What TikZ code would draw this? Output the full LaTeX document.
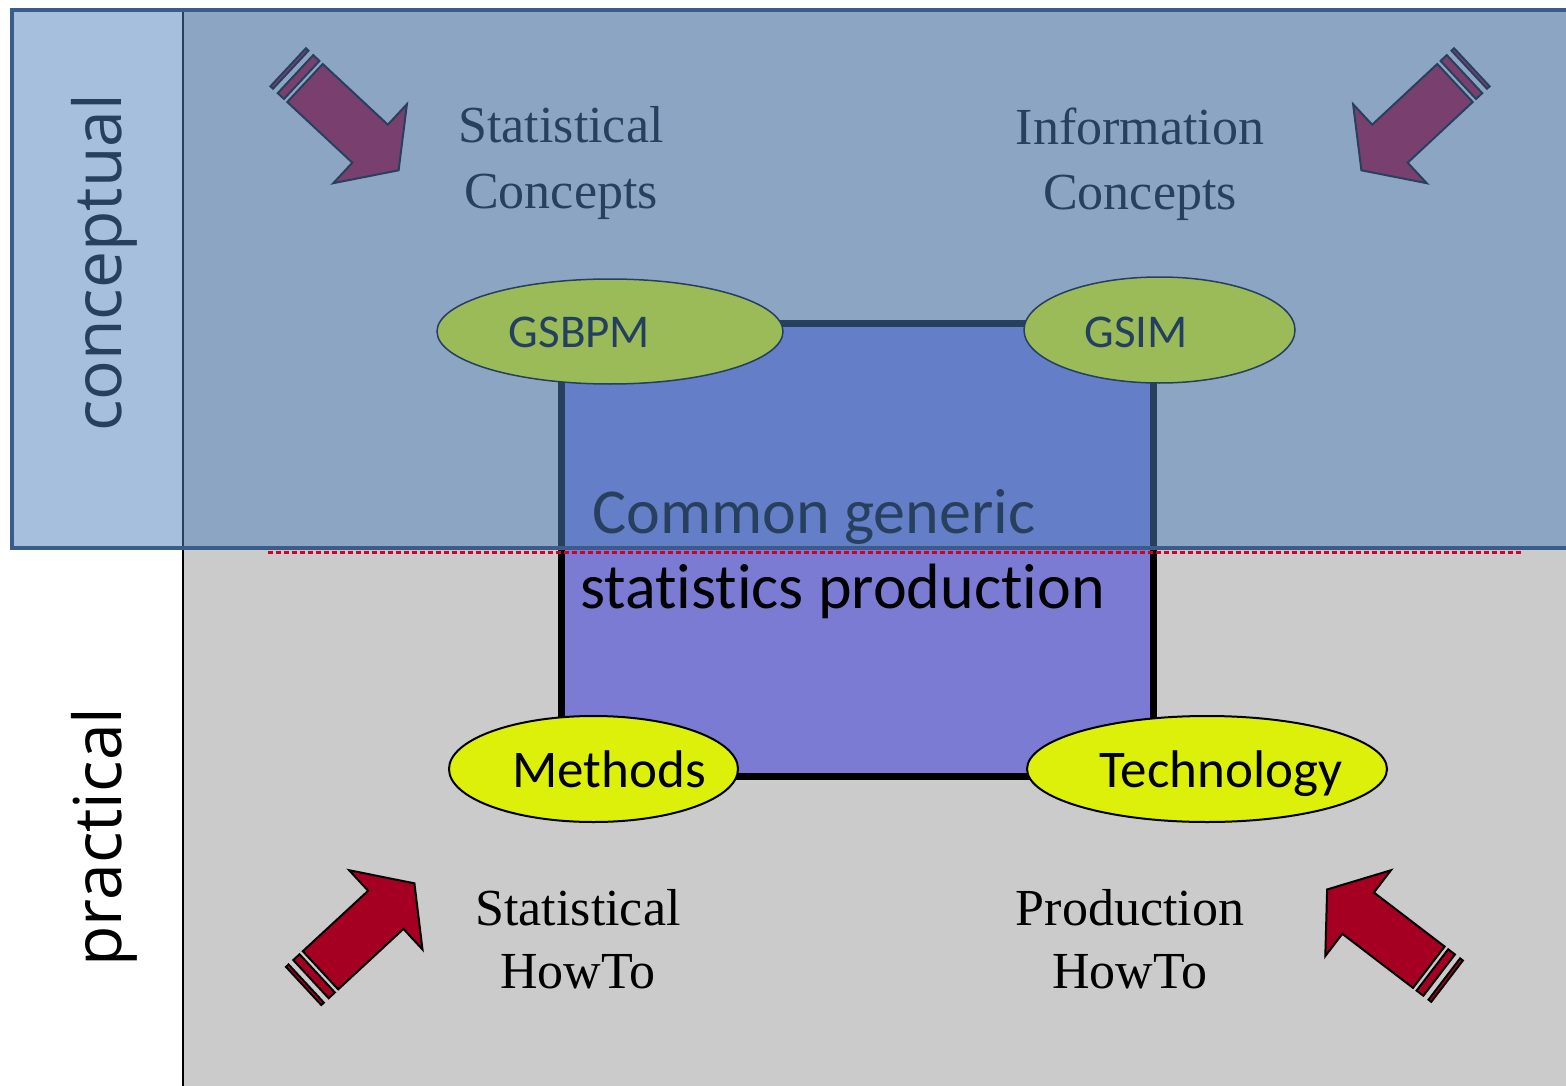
\documentclass[tikz,border=0pt]{standalone}
\usepackage{fontspec}
\setmainfont{Liberation Serif}
\newfontfamily\calib[Ligatures=NoCommon]{Carlito}
\newfontfamily\opens{Open Sans}
\usetikzlibrary{shapes.geometric}
\definecolor{graybg}{HTML}{CBCBCB}
\definecolor{sqfill}{HTML}{7B7BD3}
\definecolor{bandfill}{HTML}{4F81BD}
\definecolor{bandline}{HTML}{385D8A}
\definecolor{arrowred}{HTML}{A50021}
\definecolor{greenfill}{HTML}{9BBB59}
\definecolor{navytext}{HTML}{243F60}
\definecolor{yellowfill}{HTML}{DDF00A}
\definecolor{dashred}{HTML}{D0002A}
\begin{document}
\begin{tikzpicture}[x=1pt,y=-1pt,
  arrowsty/.style={fill=arrowred,draw=black,line width=2pt,line join=miter},
  pics/striparrow/.style={code={
    \draw[arrowsty] (0,-26) -- (89,-26) -- (89,-54) -- (128,0) -- (89,54) -- (89,26) -- (0,26) -- cycle;
    \draw[arrowsty] (-13,-26) rectangle (-4.5,26);
    \draw[arrowsty] (-23,-26) rectangle (-19.5,26);
  }},
  serif/.style={font=\fontsize{52}{63}\selectfont,inner sep=0pt,anchor=base},
  sidelabel/.style={font=\opens\fontsize{66}{72}\selectfont,rotate=90,anchor=base,inner sep=0pt},
  boxtext/.style={font=\calib\fontsize{64}{75}\selectfont,inner sep=0pt,anchor=base west},
  greenell/.style={ellipse,fill=greenfill,draw=navytext,line width=1.5pt,inner sep=0pt},
  yellowell/.style={ellipse,fill=yellowfill,draw=black,line width=2pt,inner sep=0pt},
  elltext/.style={font=\calib\fontsize{47}{55}\selectfont,inner sep=0pt,anchor=base,text=navytext},
  elltextb/.style={font=\calib\fontsize{53}{60}\selectfont,inner sep=0pt,anchor=base,text=black},
  sqbox/.style={rectangle,fill=sqfill,draw=black,line width=7pt,inner sep=0pt},
]
\useasboundingbox (0,0) rectangle (1566,1086);
\fill[white] (0,0) rectangle (1566,1086);
% practical background
\fill[graybg] (183,8) rectangle (1566,1086);
\draw[black,line width=2pt] (183,8) -- (183,1086);
% central square
\node[sqbox,minimum width=592pt,minimum height=453pt] (box) at (857,549.5) {};
\node[boxtext] (cg1) at (592,533) {Common generic};
\node[boxtext] (cg2) at (580,608) {statistics production};
% top arrows and texts (under the band)
\pic[rotate=-43] at (305,83) {striparrow};
\pic[rotate=-137] at (1455,83) {striparrow};
\node[serif] (sc1) at (561,143) {Statistical};
\node[serif] (sc2) at (561,208) {Concepts};
\node[serif] (ic1) at (1140,145) {Information};
\node[serif] (ic2) at (1140,210) {Concepts};
\node[sidelabel] (conc) at (121,263) {conceptual};
% conceptual band
\fill[bandfill,fill opacity=0.5] (10,8) rectangle (1580,550);
\draw[bandline,line width=4.5pt] (12,10) rectangle (1580,548);
\draw[dashred,line width=3pt,dash pattern=on 5pt off 3pt] (268,552.5) -- (1522,552.5);
% ellipses
\node[greenell,minimum width=346pt,minimum height=105pt] (gsbpm) at (610,331.5) {};
\node[elltext] (gsbpmt) at (579.5,347) {GSBPM};
\node[greenell,minimum width=271pt,minimum height=106pt] (gsim) at (1159.5,330) {};
\node[elltext] (gsimt) at (1136,347) {GSIM};
\node[yellowell,minimum width=289pt,minimum height=106pt] (meth) at (593.5,769) {};
\node[elltextb] (metht) at (609,787) {Methods};
\node[yellowell,minimum width=360pt,minimum height=106pt] (tech) at (1207,769) {};
\node[elltextb] (techt) at (1221,787) {Technology};
% bottom arrows and texts
\pic[rotate=42.8] at (320.5,970.3) {striparrow};
\pic[rotate=142.6] at (1428.8,967.2) {striparrow};
\node[serif] (sh1) at (578,925) {Statistical};
\node[serif] (sh2) at (578,988) {HowTo};
\node[serif] (ph1) at (1130,925) {Production};
\node[serif] (ph2) at (1130,988) {HowTo};
\node[sidelabel] (prac) at (121,837) {practical};
\end{tikzpicture}
\end{document}
